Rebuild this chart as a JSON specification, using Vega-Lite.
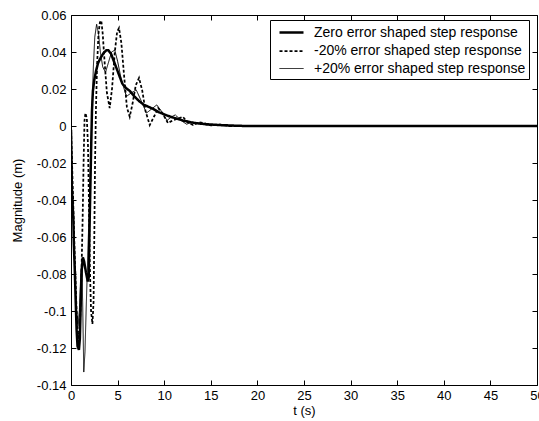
{
"$schema": "https://vega.github.io/schema/vega-lite/v6.json",
"width": 466, "height": 370,
"autosize": {"type": "none"},
"padding": {"left": 71, "top": 15, "right": 2, "bottom": 36},
"background": "white",
"config": {
  "view": {"stroke": null},
  "axis": {"domainColor": "black", "tickColor": "black", "labelColor": "black", "titleColor": "black", "labelFont": "Liberation Sans", "titleFont": "Liberation Sans", "labelFontSize": 13, "titleFontSize": 13, "titleFontWeight": "normal", "grid": false, "tickSize": -5, "labelPadding": 9, "labelOverlap": false, "labelFlush": false},
  "legend": {"orient": "none", "legendX": 199, "legendY": 5, "strokeColor": "black", "fillColor": "white", "padding": 3, "symbolType": "M-0.375,0H2.625", "symbolSize": 256, "labelFont": "Liberation Sans", "labelFontSize": 14, "labelColor": "black", "labelLimit": 0, "rowPadding": 2, "labelOffset": 22, "symbolStrokeColor": "black"}
},
"datasets": {
"d": [
{"s":"Zero","t":0,"y":-0.002},{"s":"Zero","t":0.05,"y":-0.02},{"s":"Zero","t":0.1,"y":-0.036},{"s":"Zero","t":0.25,"y":-0.05},{"s":"Zero","t":0.3,"y":-0.063},{"s":"Zero","t":0.42,"y":-0.08},{"s":"Zero","t":0.5,"y":-0.094},{"s":"Zero","t":0.6,"y":-0.11},{"s":"Zero","t":0.7,"y":-0.119},{"s":"Zero","t":0.85,"y":-0.121},{"s":"Zero","t":0.95,"y":-0.115},{"s":"Zero","t":1.05,"y":-0.095},{"s":"Zero","t":1.15,"y":-0.078},{"s":"Zero","t":1.27,"y":-0.071},{"s":"Zero","t":1.4,"y":-0.073},{"s":"Zero","t":1.6,"y":-0.079},{"s":"Zero","t":1.8,"y":-0.084},{"s":"Zero","t":1.9,"y":-0.082},{"s":"Zero","t":1.97,"y":-0.06},{"s":"Zero","t":2.05,"y":-0.04},{"s":"Zero","t":2.15,"y":-0.015},{"s":"Zero","t":2.25,"y":0.008},{"s":"Zero","t":2.35,"y":0.019},{"s":"Zero","t":2.5,"y":0.025},{"s":"Zero","t":2.7,"y":0.03},{"s":"Zero","t":2.9,"y":0.034},{"s":"Zero","t":3.2,"y":0.037},{"s":"Zero","t":3.5,"y":0.0395},{"s":"Zero","t":3.8,"y":0.041},{"s":"Zero","t":4.0,"y":0.041},{"s":"Zero","t":4.3,"y":0.039},{"s":"Zero","t":4.6,"y":0.035},{"s":"Zero","t":4.9,"y":0.031},{"s":"Zero","t":5.2,"y":0.027},{"s":"Zero","t":5.5,"y":0.023},{"s":"Zero","t":5.9,"y":0.0205},{"s":"Zero","t":6.3,"y":0.019},{"s":"Zero","t":6.8,"y":0.016},{"s":"Zero","t":7.3,"y":0.0135},{"s":"Zero","t":7.8,"y":0.0115},{"s":"Zero","t":8.4,"y":0.0102},{"s":"Zero","t":8.9,"y":0.009},{"s":"Zero","t":9.4,"y":0.0075},{"s":"Zero","t":9.9,"y":0.0065},{"s":"Zero","t":10.4,"y":0.0055},{"s":"Zero","t":11.0,"y":0.0045},{"s":"Zero","t":11.5,"y":0.0038},{"s":"Zero","t":12.0,"y":0.003},{"s":"Zero","t":12.6,"y":0.0023},{"s":"Zero","t":13.2,"y":0.0017},{"s":"Zero","t":14,"y":0.0012},{"s":"Zero","t":15,"y":0.0008},{"s":"Zero","t":16,"y":0.0005},{"s":"Zero","t":17,"y":0.0003},{"s":"Zero","t":18,"y":0.0001},{"s":"Zero","t":19,"y":0},{"s":"Zero","t":50,"y":0},
{"s":"-20%","t":0,"y":0},{"s":"-20%","t":0.2,"y":-0.035},{"s":"-20%","t":0.4,"y":-0.07},{"s":"-20%","t":0.6,"y":-0.1},{"s":"-20%","t":0.8,"y":-0.115},{"s":"-20%","t":0.95,"y":-0.11},{"s":"-20%","t":1.1,"y":-0.085},{"s":"-20%","t":1.25,"y":-0.05},{"s":"-20%","t":1.35,"y":-0.02},{"s":"-20%","t":1.45,"y":0.003},{"s":"-20%","t":1.55,"y":0.007},{"s":"-20%","t":1.7,"y":0.004},{"s":"-20%","t":1.82,"y":-0.01},{"s":"-20%","t":1.92,"y":-0.04},{"s":"-20%","t":2.02,"y":-0.075},{"s":"-20%","t":2.15,"y":-0.1},{"s":"-20%","t":2.3,"y":-0.107},{"s":"-20%","t":2.42,"y":-0.095},{"s":"-20%","t":2.5,"y":-0.06},{"s":"-20%","t":2.58,"y":-0.02},{"s":"-20%","t":2.68,"y":0.01},{"s":"-20%","t":2.8,"y":0.033},{"s":"-20%","t":2.95,"y":0.05},{"s":"-20%","t":3.1,"y":0.056},{"s":"-20%","t":3.25,"y":0.057},{"s":"-20%","t":3.4,"y":0.05},{"s":"-20%","t":3.6,"y":0.035},{"s":"-20%","t":3.85,"y":0.018},{"s":"-20%","t":4.15,"y":0.0097},{"s":"-20%","t":4.4,"y":0.02},{"s":"-20%","t":4.7,"y":0.04},{"s":"-20%","t":4.95,"y":0.051},{"s":"-20%","t":5.15,"y":0.053},{"s":"-20%","t":5.4,"y":0.045},{"s":"-20%","t":5.7,"y":0.027},{"s":"-20%","t":6.0,"y":0.01},{"s":"-20%","t":6.3,"y":0.005},{"s":"-20%","t":6.6,"y":0.012},{"s":"-20%","t":6.95,"y":0.022},{"s":"-20%","t":7.3,"y":0.026},{"s":"-20%","t":7.65,"y":0.019},{"s":"-20%","t":8.0,"y":0.008},{"s":"-20%","t":8.45,"y":0.0005},{"s":"-20%","t":8.9,"y":0.005},{"s":"-20%","t":9.35,"y":0.0097},{"s":"-20%","t":9.8,"y":0.007},{"s":"-20%","t":10.4,"y":0.0016},{"s":"-20%","t":10.9,"y":0.003},{"s":"-20%","t":11.5,"y":0.004},{"s":"-20%","t":12.0,"y":0.005},{"s":"-20%","t":12.5,"y":0.002},{"s":"-20%","t":13.1,"y":0.0005},{"s":"-20%","t":13.7,"y":0.002},{"s":"-20%","t":14.3,"y":0.0015},{"s":"-20%","t":15,"y":0.0003},{"s":"-20%","t":16,"y":0.0008},{"s":"-20%","t":17,"y":0},{"s":"-20%","t":50,"y":0},
{"s":"+20%","t":0,"y":0},{"s":"+20%","t":0.15,"y":-0.03},{"s":"+20%","t":0.3,"y":-0.06},{"s":"+20%","t":0.45,"y":-0.085},{"s":"+20%","t":0.6,"y":-0.1},{"s":"+20%","t":0.75,"y":-0.108},{"s":"+20%","t":0.9,"y":-0.1},{"s":"+20%","t":1.05,"y":-0.08},{"s":"+20%","t":1.15,"y":-0.075},{"s":"+20%","t":1.25,"y":-0.095},{"s":"+20%","t":1.37,"y":-0.133},{"s":"+20%","t":1.5,"y":-0.122},{"s":"+20%","t":1.65,"y":-0.095},{"s":"+20%","t":1.8,"y":-0.07},{"s":"+20%","t":1.95,"y":-0.045},{"s":"+20%","t":2.1,"y":-0.02},{"s":"+20%","t":2.25,"y":0.008},{"s":"+20%","t":2.4,"y":0.032},{"s":"+20%","t":2.55,"y":0.048},{"s":"+20%","t":2.75,"y":0.055},{"s":"+20%","t":2.95,"y":0.05},{"s":"+20%","t":3.15,"y":0.04},{"s":"+20%","t":3.4,"y":0.032},{"s":"+20%","t":3.7,"y":0.029},{"s":"+20%","t":4.0,"y":0.034},{"s":"+20%","t":4.35,"y":0.04},{"s":"+20%","t":4.7,"y":0.041},{"s":"+20%","t":5.0,"y":0.035},{"s":"+20%","t":5.4,"y":0.025},{"s":"+20%","t":5.95,"y":0.016},{"s":"+20%","t":6.5,"y":0.018},{"s":"+20%","t":7.0,"y":0.0195},{"s":"+20%","t":7.5,"y":0.014},{"s":"+20%","t":8.1,"y":0.007},{"s":"+20%","t":8.6,"y":0.009},{"s":"+20%","t":9.2,"y":0.0114},{"s":"+20%","t":9.7,"y":0.008},{"s":"+20%","t":10.3,"y":0.003},{"s":"+20%","t":10.8,"y":0.005},{"s":"+20%","t":11.2,"y":0.006},{"s":"+20%","t":11.8,"y":0.003},{"s":"+20%","t":12.4,"y":0.001},{"s":"+20%","t":13,"y":0.002},{"s":"+20%","t":13.8,"y":0.0015},{"s":"+20%","t":14.5,"y":0.0005},{"s":"+20%","t":15.5,"y":0.0005},{"s":"+20%","t":17,"y":0},{"s":"+20%","t":50,"y":0}
]
},
"data": {"name": "d"},
"layer": [
  {
    "mark": {"type": "line", "strokeCap": "butt", "clip": true},
    "encoding": {
      "x": {"field": "t", "type": "quantitative", "scale": {"domain": [0, 50], "nice": false, "zero": false},
            "axis": {"orient": "bottom", "title": "t (s)", "values": [0,5,10,15,20,25,30,35,40,45,50], "titlePadding": 2}},
      "y": {"field": "y", "type": "quantitative", "scale": {"domain": [-0.14, 0.06], "nice": false, "zero": false},
            "axis": {"orient": "left", "title": "Magnitude (m)", "values": [-0.14,-0.12,-0.1,-0.08,-0.06,-0.04,-0.02,0,0.02,0.04,0.06], "titlePadding": 12, "labelPadding": 10,
                     "labelExpr": "(datum.value < -0.0001 ? '-' : '') + format(abs(datum.value), '~g')"}},
      "color": {"field": "s", "type": "nominal", "scale": {"domain": ["Zero", "-20%", "+20%"], "range": ["black", "black", "black"]},
                "legend": {"title": null, "labelExpr": "datum.label + ' error shaped step response '"}},
      "strokeDash": {"field": "s", "type": "nominal", "scale": {"domain": ["Zero", "-20%", "+20%"], "range": [[1, 0], [3, 2], [1, 0]]},
                "legend": {"title": null, "labelExpr": "datum.label + ' error shaped step response '"}},
      "strokeWidth": {"field": "s", "type": "nominal", "scale": {"domain": ["Zero", "-20%", "+20%"], "range": [2.5, 1, 1]},
                "legend": {"title": null, "labelExpr": "datum.label + ' error shaped step response '"}}
    }
  },
  {
    "mark": {"type": "point", "opacity": 0},
    "encoding": {
      "x": {"field": "t", "type": "quantitative", "scale": {"domain": [0, 50], "nice": false, "zero": false},
            "axis": {"orient": "top", "title": null, "labels": false, "values": [0,5,10,15,20,25,30,35,40,45,50]}},
      "y": {"field": "y", "type": "quantitative", "scale": {"domain": [-0.14, 0.06], "nice": false, "zero": false},
            "axis": {"orient": "right", "title": null, "labels": false, "values": [-0.14,-0.12,-0.1,-0.08,-0.06,-0.04,-0.02,0,0.02,0.04,0.06]}}
    }
  }
],
"resolve": {"axis": {"x": "independent", "y": "independent"}}
}
